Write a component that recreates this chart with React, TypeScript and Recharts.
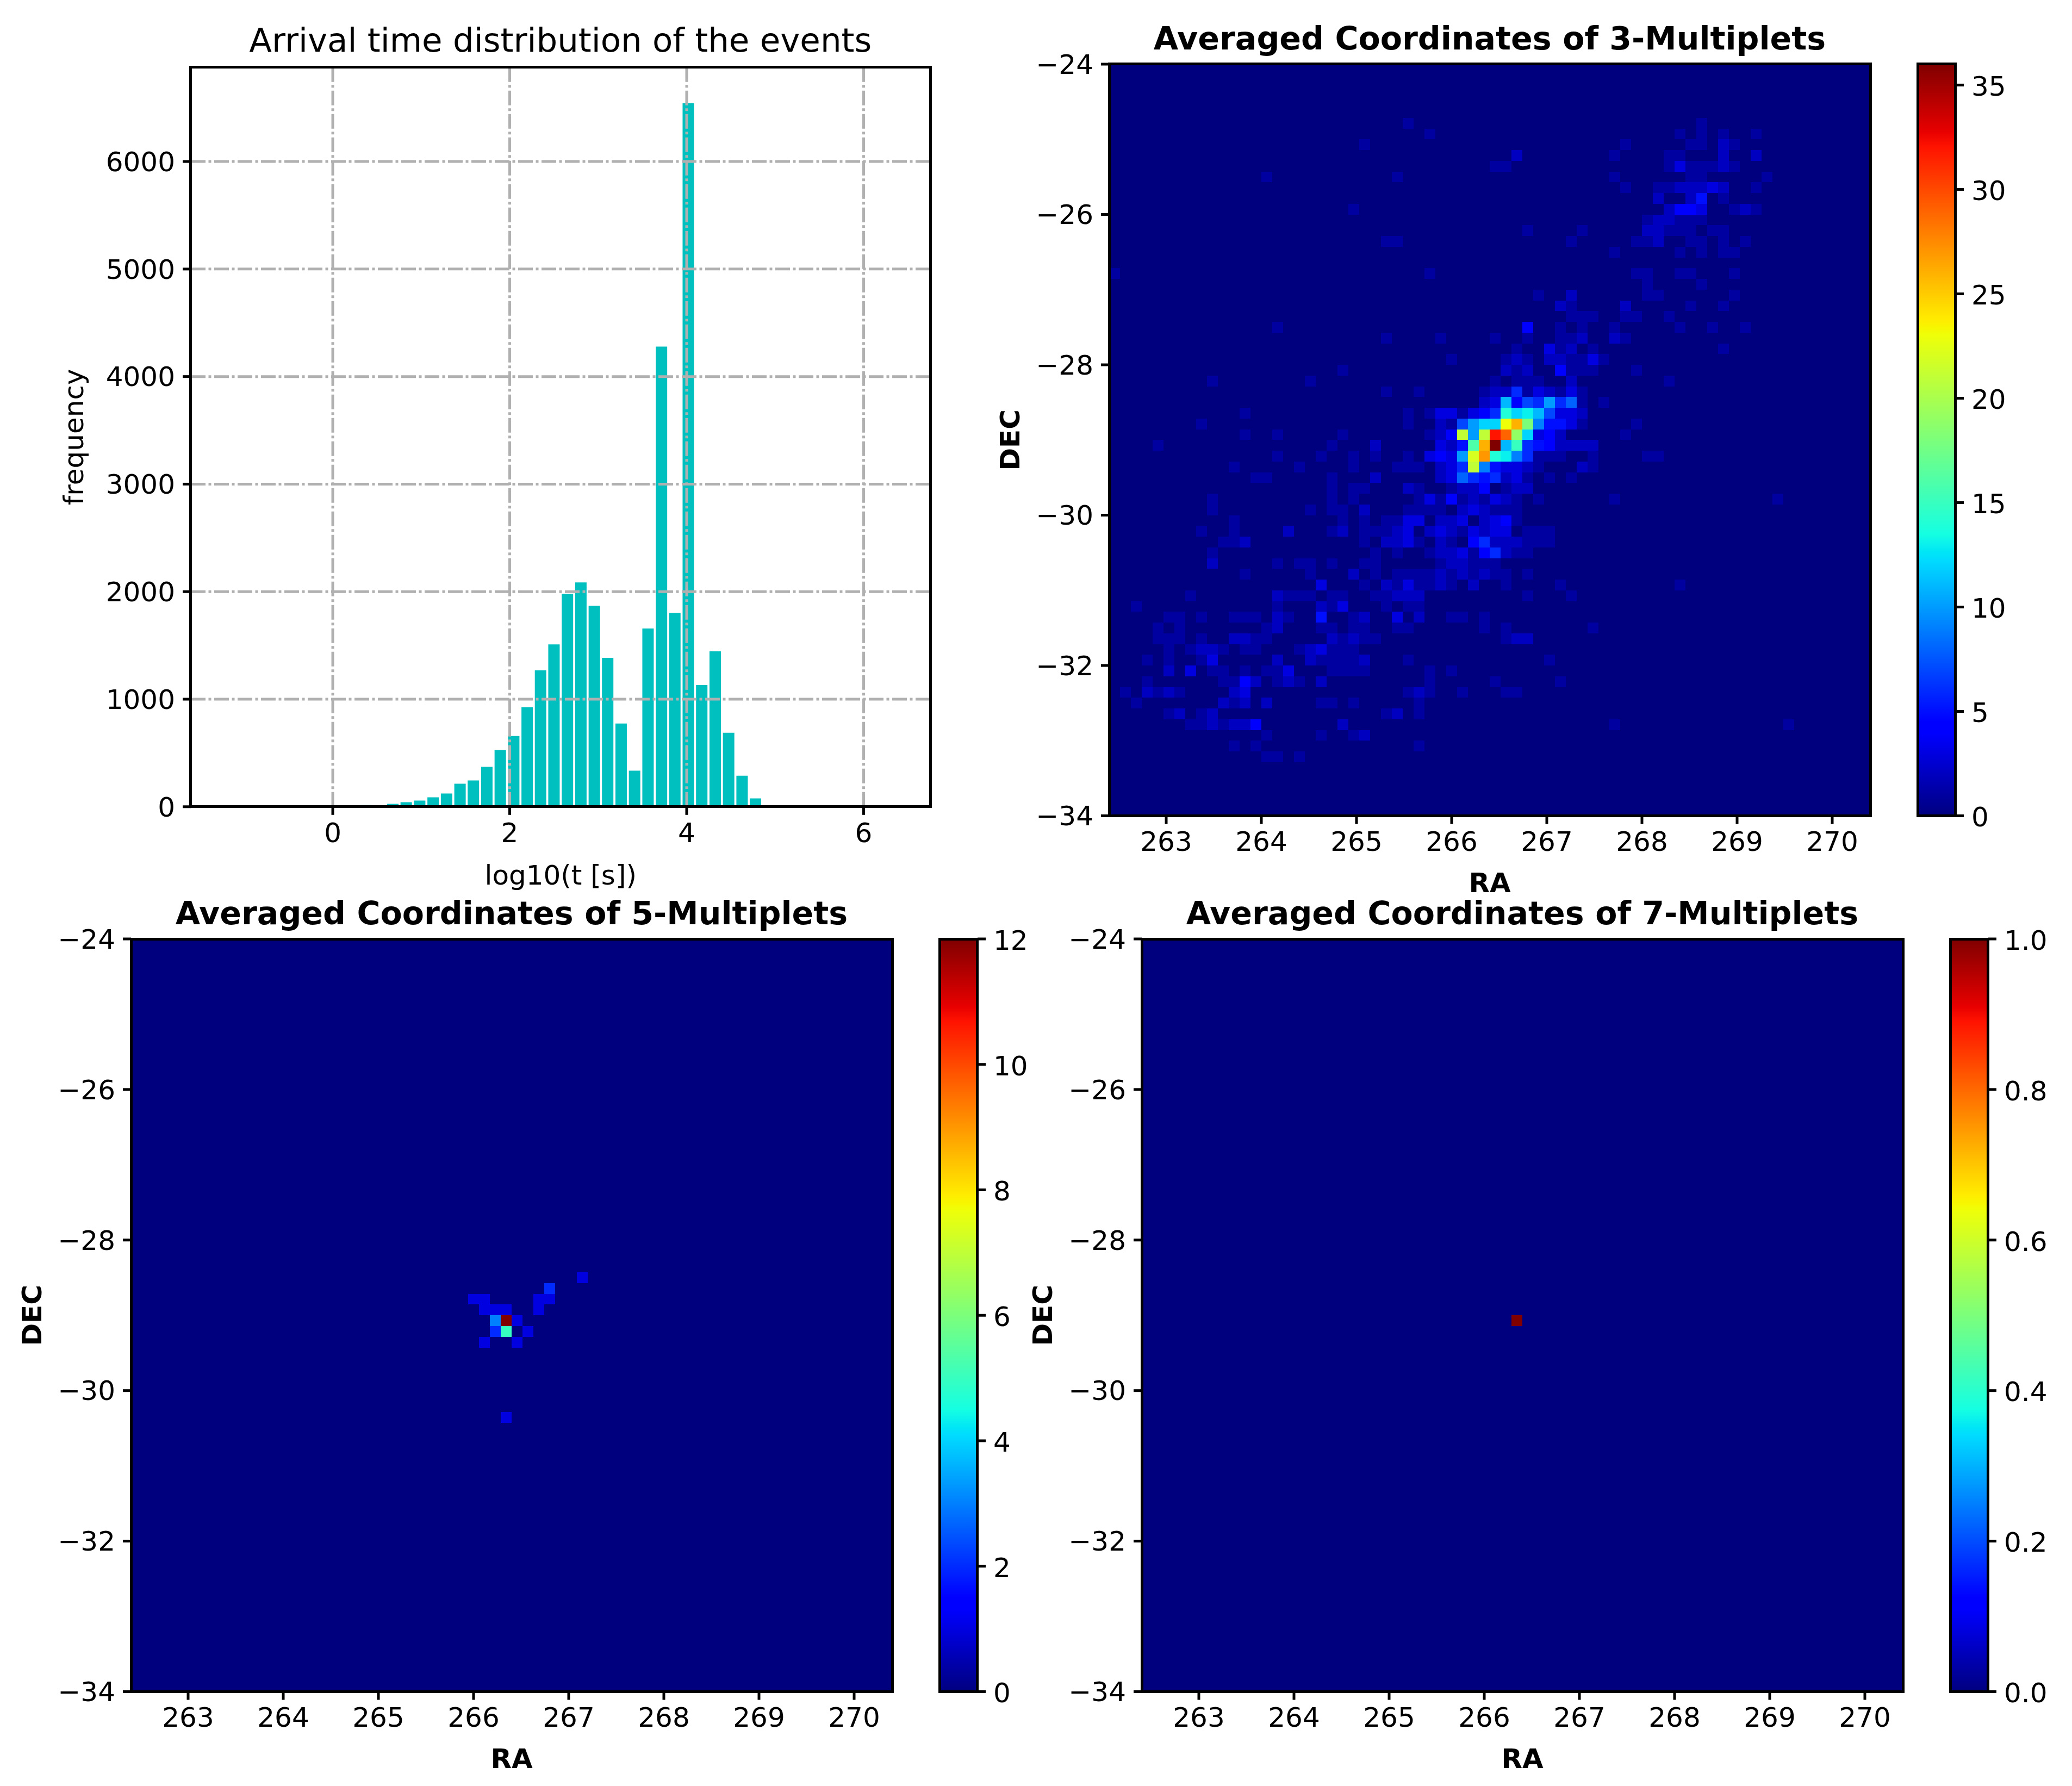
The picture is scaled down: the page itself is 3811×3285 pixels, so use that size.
import { Bar, CartesianGrid, ComposedChart, ReferenceLine, Scatter, ScatterChart, XAxis, YAxis } from "recharts";

// arrival time histogram (bin centres in log10 seconds, counts)
const T_CENTERS = [0.374, 0.526, 0.678, 0.829, 0.981, 1.133, 1.285, 1.437, 1.588, 1.74, 1.892, 2.044, 2.196, 2.347, 2.499, 2.651, 2.803, 2.955, 3.106, 3.258, 3.41, 3.562, 3.714, 3.865, 4.017, 4.169, 4.321, 4.473, 4.625, 4.776];
const T_COUNTS = [15, 0, 27, 42, 57, 87, 123, 214, 244, 370, 527, 658, 925, 1268, 1510, 1980, 2086, 1869, 1384, 774, 335, 1657, 4279, 1803, 6543, 1132, 1445, 688, 289, 77];
const T_X_TICKS = [0, 2, 4, 6];
const T_Y_TICKS = [0, 1000, 2000, 3000, 4000, 5000, 6000];

const RA_TICKS = [263, 264, 265, 266, 267, 268, 269, 270];
const DEC_TICKS = [-34, -32, -30, -28, -26, -24];
const CB3_TICKS = [0, 5, 10, 15, 20, 25, 30, 35];
const CB5_TICKS = [0, 2, 4, 6, 8, 10, 12];
const CB7_TICKS = [0, 0.2, 0.4, 0.6, 0.8, 1];

// heatmap cells as [RA bin, DEC bin counted from the top, count], 70 x 70 bins, empty bins left out
const M3_CELLS = [
  [27,5,1],[54,5,1],
  [29,6,1],[52,6,1],[54,6,1],[56,6,1],[59,6,1],
  [23,7,1],[47,7,1],[53,7,1],[54,7,1],[56,7,2],[57,7,1],
  [37,8,2],[46,8,1],[51,8,1],[52,8,1],[56,8,2],[59,8,2],
  [35,9,1],[36,9,1],[51,9,1],[52,9,3],[53,9,1],[54,9,1],[55,9,1],[56,9,2],[57,9,1],
  [14,10,1],[26,10,1],[46,10,1],[53,10,1],[54,10,1],[60,10,1],
  [47,11,1],[50,11,1],[51,11,1],[52,11,2],[53,11,2],[54,11,2],[55,11,3],[56,11,2],[59,11,1],
  [50,12,2],[53,12,2],[54,12,5],[56,12,1],
  [22,13,1],[51,13,2],[52,13,4],[53,13,4],[54,13,3],[57,13,1],[58,13,2],[59,13,1],
  [49,14,1],[50,14,2],[51,14,2],[52,14,1],[53,14,1],[54,14,1],
  [38,15,1],[43,15,1],[49,15,2],[50,15,2],[51,15,1],[52,15,1],[53,15,1],[55,15,1],[56,15,1],
  [25,16,1],[26,16,1],[42,16,1],[48,16,1],[49,16,1],[50,16,2],[53,16,1],[54,16,1],[56,16,1],[58,16,1],
  [46,17,1],[52,17,1],[54,17,1],[56,17,1],[57,17,1],
  [0,19,1],[29,19,1],[48,19,1],[49,19,1],[52,19,1],[53,19,1],[57,19,1],
  [49,20,1],[54,20,1],
  [39,21,1],[42,21,2],[49,21,1],[50,21,1],[57,21,1],
  [41,22,2],[42,22,1],[47,22,2],[53,22,1],[56,22,1],
  [42,23,1],[43,23,1],[44,23,1],[47,23,1],[48,23,1],[51,23,1],
  [15,24,1],[38,24,4],[41,24,1],[43,24,1],[46,24,1],[52,24,1],[55,24,1],[58,24,1],
  [25,25,1],[30,25,1],[35,25,1],[38,25,1],[41,25,1],[42,25,1],[43,25,2],[46,25,2],[47,25,1],
  [37,26,1],[40,26,3],[41,26,1],[42,26,2],[44,26,1],[56,26,1],
  [31,27,1],[36,27,1],[37,27,2],[38,27,1],[40,27,2],[41,27,2],[42,27,1],[43,27,1],[44,27,3],[45,27,1],
  [21,28,1],[36,28,2],[37,28,1],[38,28,2],[41,28,4],[42,28,1],[43,28,1],[44,28,1],[48,28,1],
  [9,29,1],[18,29,1],[35,29,1],[37,29,1],[38,29,1],[39,29,1],[42,29,2],[51,29,1],
  [25,30,1],[28,30,1],[34,30,1],[35,30,2],[36,30,2],[37,30,6],[38,30,1],[39,30,3],[40,30,2],[41,30,1],[42,30,3],[43,30,1],
  [34,31,2],[35,31,3],[36,31,11],[37,31,4],[38,31,7],[39,31,6],[40,31,10],[41,31,6],[42,31,8],[43,31,1],[45,31,1],
  [12,32,1],[27,32,1],[29,32,1],[30,32,3],[31,32,3],[32,32,1],[33,32,3],[34,32,4],[35,32,6],[36,32,14],[37,32,12],[38,32,13],[39,32,11],[40,32,7],[41,32,3],[42,32,3],[43,32,2],
  [8,33,1],[27,33,1],[30,33,2],[31,33,1],[32,33,7],[33,33,10],[34,33,12],[35,33,12],[36,33,23],[37,33,26],[38,33,18],[39,33,9],[40,33,5],[41,33,5],[42,33,3],[43,33,1],[48,33,1],
  [12,34,1],[15,34,1],[21,34,1],[29,34,1],[30,34,2],[31,34,4],[32,34,21],[33,34,10],[34,34,21],[35,34,32],[36,34,29],[37,34,19],[38,34,12],[39,34,3],[40,34,4],[41,34,2],[47,34,1],
  [4,35,1],[20,35,1],[24,35,2],[30,35,3],[31,35,2],[32,35,5],[33,35,16],[34,35,26],[35,35,36],[36,35,11],[37,35,15],[38,35,6],[39,35,5],[40,35,4],[41,35,2],[42,35,2],[43,35,2],[44,35,2],
  [15,36,1],[19,36,1],[22,36,1],[24,36,1],[27,36,1],[29,36,3],[30,36,4],[31,36,3],[32,36,10],[33,36,22],[34,36,27],[35,36,14],[36,36,13],[37,36,9],[38,36,6],[39,36,1],[40,36,1],[41,36,1],[44,36,1],[49,36,1],[50,36,1],
  [11,37,1],[17,37,1],[22,37,1],[26,37,1],[27,37,1],[28,37,1],[30,37,2],[31,37,3],[32,37,6],[33,37,21],[34,37,9],[35,37,5],[36,37,3],[37,37,3],[38,37,2],[39,37,1],[43,37,2],[44,37,1],
  [13,38,1],[14,38,1],[20,38,1],[24,38,2],[30,38,2],[31,38,3],[32,38,8],[33,38,6],[34,38,5],[35,38,6],[36,38,2],[37,38,3],[38,38,1],[40,38,1],[42,38,1],
  [20,39,1],[22,39,1],[23,39,1],[27,39,2],[28,39,1],[31,39,1],[32,39,2],[33,39,2],[34,39,4],[36,39,1],[37,39,2],[38,39,2],
  [9,40,1],[20,40,1],[22,40,1],[28,40,1],[29,40,3],[30,40,1],[31,40,4],[32,40,1],[33,40,2],[34,40,1],[35,40,3],[36,40,2],[37,40,1],[39,40,1],[46,40,1],[61,40,1],
  [9,41,1],[18,41,1],[20,41,1],[21,41,1],[23,41,2],[27,41,1],[28,41,1],[29,41,1],[30,41,1],[32,41,2],[33,41,3],[34,41,2],[35,41,1],[36,41,1],[37,41,1],
  [11,42,1],[21,42,1],[23,42,1],[25,42,1],[26,42,1],[27,42,3],[28,42,3],[30,42,2],[31,42,2],[32,42,3],[34,42,2],[35,42,3],[36,42,4],[37,42,1],
  [8,43,1],[11,43,1],[16,43,2],[20,43,1],[21,43,2],[23,43,1],[24,43,1],[25,43,1],[26,43,2],[27,43,3],[29,43,2],[30,43,3],[31,43,2],[32,43,1],[33,43,3],[34,43,2],[35,43,3],[36,43,3],[38,43,1],[39,43,1],[40,43,1],
  [10,44,1],[11,44,1],[12,44,2],[23,44,1],[25,44,2],[26,44,2],[27,44,3],[28,44,1],[30,44,2],[31,44,1],[33,44,4],[34,44,6],[35,44,2],[36,44,2],[37,44,2],[38,44,1],[39,44,1],[40,44,1],
  [9,45,1],[24,45,1],[26,45,1],[29,45,1],[30,45,2],[31,45,2],[32,45,3],[33,45,1],[34,45,4],[35,45,6],[36,45,2],[37,45,1],[38,45,1],
  [9,46,2],[15,46,1],[17,46,1],[18,46,1],[20,46,1],[23,46,1],[24,46,1],[30,46,1],[31,46,2],[32,46,2],[33,46,1],[34,46,1],[35,46,1],
  [12,47,1],[18,47,1],[22,47,2],[24,47,1],[26,47,1],[27,47,1],[28,47,1],[29,47,1],[30,47,2],[31,47,1],[32,47,2],[33,47,1],[34,47,2],[35,47,1],[36,47,1],[38,47,1],
  [19,48,3],[23,48,1],[25,48,2],[26,48,1],[27,48,3],[28,48,1],[29,48,1],[30,48,2],[31,48,1],[33,48,2],[36,48,1],[41,48,1],[52,48,1],
  [7,49,1],[15,49,2],[16,49,1],[17,49,1],[18,49,1],[20,49,1],[21,49,1],[24,49,1],[25,49,1],[26,49,2],[27,49,2],[28,49,2],[38,49,1],[42,49,1],
  [2,50,1],[15,50,1],[19,50,2],[20,50,1],[21,50,3],[25,50,1],[27,50,1],[28,50,1],
  [5,51,1],[6,51,1],[8,51,1],[11,51,1],[12,51,1],[13,51,1],[15,51,2],[16,51,1],[19,51,5],[22,51,1],[23,51,2],[26,51,3],[28,51,2],[31,51,1],[32,51,1],[34,51,1],
  [4,52,1],[6,52,1],[14,52,1],[15,52,2],[19,52,1],[20,52,1],[22,52,1],[23,52,1],[26,52,1],[27,52,1],[34,52,1],[36,52,1],[44,52,1],
  [4,53,1],[5,53,1],[6,53,1],[8,53,1],[11,53,2],[12,53,2],[13,53,1],[14,53,1],[20,53,2],[21,53,1],[22,53,2],[23,53,1],[24,53,1],[36,53,1],[37,53,2],[38,53,2],
  [5,54,1],[7,54,1],[8,54,2],[9,54,2],[10,54,1],[12,54,1],[13,54,1],[17,54,1],[18,54,2],[19,54,3],[20,54,1],[21,54,1],[22,54,1],
  [3,55,1],[5,55,1],[8,55,1],[9,55,3],[15,55,2],[18,55,2],[19,55,1],[20,55,1],[21,55,1],[22,55,1],[23,55,2],[27,55,1],[40,55,1],
  [5,56,2],[7,56,3],[9,56,1],[10,56,1],[12,56,1],[14,56,1],[15,56,1],[16,56,3],[20,56,1],[21,56,1],[22,56,1],[23,56,1],[29,56,1],[31,56,1],
  [3,57,1],[10,57,1],[11,57,1],[12,57,4],[13,57,2],[15,57,1],[16,57,2],[17,57,1],[19,57,2],[29,57,1],[35,57,1],[41,57,1],
  [1,58,1],[3,58,2],[4,58,1],[5,58,2],[6,58,1],[11,58,2],[12,58,3],[27,58,1],[28,58,2],[29,58,1],[32,58,1],[36,58,1],[37,58,1],
  [2,59,1],[10,59,2],[11,59,1],[12,59,2],[14,59,2],[19,59,1],[20,59,1],[22,59,1],[28,59,1],
  [5,60,1],[6,60,2],[8,60,1],[9,60,2],[25,60,1],[26,60,2],[28,60,1],
  [7,61,1],[8,61,1],[9,61,2],[10,61,1],[11,61,2],[12,61,2],[13,61,4],[21,61,2],[46,61,1],[62,61,1],
  [14,62,1],[19,62,1],[22,62,1],[23,62,2],
  [11,63,1],[13,63,1],[28,63,1],
  [14,64,1],[15,64,1],[17,64,1],
];

const M5_CELLS = [
  [41,31,1],
  [38,32,2],
  [31,33,1],[32,33,1],[37,33,1],[38,33,1],
  [32,34,1],[33,34,1],[34,34,1],[37,34,1],
  [33,35,3],[34,35,12],[35,35,1],
  [33,36,2],[34,36,5],[36,36,1],
  [32,37,1],[35,37,1],
  [34,44,1],
];

const M7_CELLS = [[34, 35, 1]];

const FONT = "'DejaVu Sans', sans-serif";
const INK = "#000";
const LINE = 5;
const TICK_LEN = 15;
const PANEL_W = 1400;
const BINS = 70;
const RA_RANGE = [262.4, 270.4];
const DEC_RANGE = [-34, -24];

// matplotlib's jet: breakpoints of each channel
const JET_R = [[0, 0], [0.35, 0], [0.66, 1], [0.89, 1], [1, 0.5]];
const JET_G = [[0, 0], [0.125, 0], [0.375, 1], [0.64, 1], [0.91, 0], [1, 0]];
const JET_B = [[0, 0.5], [0.11, 1], [0.34, 1], [0.65, 0], [1, 0]];
const JET_STOPS = [0, 0.11, 0.125, 0.34, 0.35, 0.375, 0.64, 0.65, 0.66, 0.89, 0.91, 1];

function channel(pts: number[][], t: number) {
  for (let i = 1; i < pts.length; i++) {
    if (t <= pts[i][0]) {
      const [x0, y0] = pts[i - 1];
      const [x1, y1] = pts[i];
      return y0 + ((t - x0) / (x1 - x0)) * (y1 - y0);
    }
  }
  return pts[pts.length - 1][1];
}

function jet(t: number) {
  const r = Math.round(channel(JET_R, t) * 255);
  const g = Math.round(channel(JET_G, t) * 255);
  const b = Math.round(channel(JET_B, t) * 255);
  return `rgb(${r},${g},${b})`;
}

const minus = (v: number) => String(v).replace("-", "\u2212");
const tickStyle = { fontSize: 50, fill: INK, fontFamily: FONT };
const tickLine = { stroke: INK, strokeWidth: LINE };

function Frame({ left, top, width, height }: { left: number; top: number; width: number; height: number }) {
  return (
    <div
      style={{
        position: "absolute",
        left: left - LINE / 2,
        top: top - LINE / 2,
        width: width + LINE,
        height: height + LINE,
        border: `${LINE}px solid ${INK}`,
        boxSizing: "border-box",
        pointerEvents: "none",
      }}
    />
  );
}

function Title({ x, y, bold, size, children }: { x: number; y: number; bold?: boolean; size: number; children: string }) {
  return (
    <div
      style={{
        position: "absolute",
        left: x,
        top: y,
        transform: "translate(-50%, -50%)",
        fontFamily: FONT,
        fontSize: size,
        fontWeight: bold ? 700 : 400,
        lineHeight: 1,
        whiteSpace: "nowrap",
        color: INK,
      }}
    >
      {children}
    </div>
  );
}

function Histogram() {
  const L = 350.5;
  const T = 123.5;
  const W = 1360.5;
  const H = 1359.8;
  const axisW = 250;
  const axisH = 180;
  const pad = 40;
  const data = T_CENTERS.map((t, i) => ({ t, n: T_COUNTS[i] }));
  const grid = { stroke: "#b0b0b0", strokeWidth: 5, strokeDasharray: "27 5.5 5 5.5" };
  return (
    <>
      <Title x={L + W / 2} y={73} size={61}>Arrival time distribution of the events</Title>
      <div style={{ position: "absolute", left: L - axisW, top: T - pad }}>
        <ComposedChart
          width={axisW + W + pad}
          height={pad + H + axisH}
          data={data}
          margin={{ top: pad, right: pad, bottom: 0, left: 0 }}
        >
          <XAxis
            dataKey="t"
            type="number"
            domain={[-1.604, 6.756]}
            ticks={T_X_TICKS}
            interval={0}
            axisLine={false}
            tickLine={tickLine}
            tickSize={TICK_LEN}
            tickMargin={15}
            tick={tickStyle}
            height={axisH}
            allowDataOverflow
            label={{ value: "log10(t [s])", position: "insideBottom", offset: 37, style: { ...tickStyle } }}
          />
          <YAxis
            type="number"
            domain={[0, 6875]}
            ticks={T_Y_TICKS}
            interval={0}
            axisLine={false}
            tickLine={tickLine}
            tickSize={TICK_LEN}
            tickMargin={14}
            tick={tickStyle}
            width={axisW}
            allowDataOverflow
            label={{ value: "frequency", angle: -90, position: "insideLeft", offset: 34, style: { ...tickStyle, textAnchor: "middle" } }}
          />
          <Bar dataKey="n" fill="#00bfbf" barSize={21} isAnimationActive={false} />
          {T_Y_TICKS.slice(1).map((v) => (
            <ReferenceLine key={`h${v}`} y={v} {...grid} zIndex={600} />
          ))}
          {T_X_TICKS.map((v) => (
            <ReferenceLine key={`v${v}`} x={v} {...grid} zIndex={600} />
          ))}
        </ComposedChart>
      </div>
      <Frame left={L} top={T} width={W} height={H} />
    </>
  );
}

function Heatmap({ left, top, height, title, cells, max, cbTicks, cbFormat }: {
  left: number;
  top: number;
  height: number;
  title: string;
  cells: number[][];
  max: number;
  cbTicks: number[];
  cbFormat?: (v: number) => string;
}) {
  const axisW = 240;
  const axisH = 180;
  const pad = 40;
  const cellW = PANEL_W / BINS;
  const cellH = height / BINS;
  const raStep = (RA_RANGE[1] - RA_RANGE[0]) / BINS;
  const decStep = (DEC_RANGE[1] - DEC_RANGE[0]) / BINS;
  const data = cells.map(([c, r, v]) => ({
    ra: RA_RANGE[0] + (c + 0.5) * raStep,
    dec: DEC_RANGE[1] - (r + 0.5) * decStep,
    v,
  }));
  const cbLeft = left + PANEL_W + 87.5;
  const cbW = 69;
  const gradId = `jet${max}`;
  const Cell = (p: any) => (
    <rect
      x={p.cx - cellW / 2}
      y={p.cy - cellH / 2}
      width={cellW}
      height={cellH}
      fill={jet(p.payload.v / max)}
      shapeRendering="crispEdges"
    />
  );
  return (
    <>
      <Title x={left + PANEL_W / 2} y={top - 47} bold size={58.6}>{title}</Title>
      <div style={{ position: "absolute", left: left - axisW, top: top - pad }}>
        <ScatterChart
          width={axisW + PANEL_W + pad}
          height={pad + height + axisH}
          margin={{ top: pad, right: pad, bottom: 0, left: 0 }}
        >
          <CartesianGrid horizontal={false} vertical={false} fill="#00007f" fillOpacity={1} />
          <XAxis
            dataKey="ra"
            type="number"
            domain={RA_RANGE}
            ticks={RA_TICKS}
            interval={0}
            axisLine={false}
            tickLine={tickLine}
            tickSize={TICK_LEN}
            tickMargin={14}
            tick={tickStyle}
            height={axisH}
            allowDataOverflow
            label={{ value: "RA", position: "insideBottom", offset: 40, style: { ...tickStyle, fontWeight: 700 } }}
          />
          <YAxis
            dataKey="dec"
            type="number"
            domain={DEC_RANGE}
            ticks={DEC_TICKS}
            interval={0}
            axisLine={false}
            tickLine={tickLine}
            tickSize={TICK_LEN}
            tickMargin={14}
            tick={tickStyle}
            tickFormatter={minus}
            width={axisW}
            allowDataOverflow
            label={{ value: "DEC", angle: -90, position: "insideLeft", offset: 57, style: { ...tickStyle, fontWeight: 700, textAnchor: "middle" } }}
          />
          <Scatter data={data} shape={Cell} isAnimationActive={false} />
        </ScatterChart>
      </div>
      <Frame left={left} top={top} width={PANEL_W} height={height} />

      <div style={{ position: "absolute", left: cbLeft, top: top - pad }}>
        <ComposedChart
          width={cbW + 200}
          height={pad + height + pad}
          data={[{ name: "jet", value: max }]}
          barCategoryGap={0}
          margin={{ top: pad, right: 0, bottom: pad, left: 0 }}
        >
          <defs>
            <linearGradient id={gradId} x1="0" y1="1" x2="0" y2="0">
              {JET_STOPS.map((s) => (
                <stop key={s} offset={s} stopColor={jet(s)} />
              ))}
            </linearGradient>
          </defs>
          <XAxis dataKey="name" hide />
          <YAxis
            orientation="right"
            type="number"
            domain={[0, max]}
            ticks={cbTicks}
            interval={0}
            axisLine={false}
            tickLine={tickLine}
            tickSize={TICK_LEN}
            tickMargin={14}
            tick={{ ...tickStyle, dy: 2 }}
            tickFormatter={cbFormat}
            width={200}
            allowDataOverflow
          />
          <Bar dataKey="value" fill={`url(#${gradId})`} isAnimationActive={false} />
        </ComposedChart>
      </div>
      <Frame left={cbLeft} top={top} width={cbW} height={height} />
    </>
  );
}

export default function App() {
  return (
    <div style={{ position: "absolute", left: 0, top: 0, width: 3811, height: 3285, background: "#fff", overflow: "hidden" }}>
      <Histogram />
      <Heatmap left={2040} top={117.5} height={1382.5} title="Averaged Coordinates of 3-Multiplets" cells={M3_CELLS} max={36} cbTicks={CB3_TICKS} />
      <Heatmap left={241} top={1727} height={1384.5} title="Averaged Coordinates of 5-Multiplets" cells={M5_CELLS} max={12} cbTicks={CB5_TICKS} />
      <Heatmap left={2100} top={1727} height={1384.5} title="Averaged Coordinates of 7-Multiplets" cells={M7_CELLS} max={1} cbTicks={CB7_TICKS} cbFormat={(v) => v.toFixed(1)} />
    </div>
  );
}
